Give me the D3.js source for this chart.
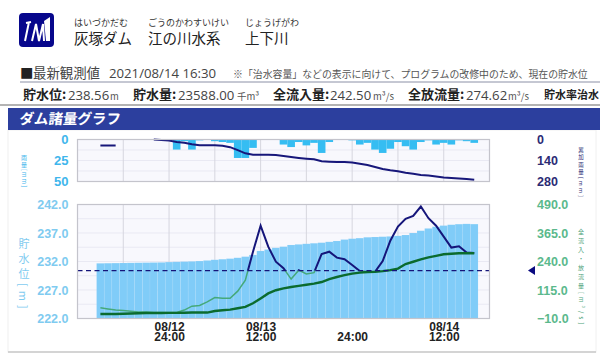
<!DOCTYPE html>
<html>
<head>
<meta charset="utf-8">
<script src="https://cdn.jsdelivr.net/npm/d3@7"></script>
<style>
  html, body { margin: 0; padding: 0; background: #fff; overflow: hidden; }
  svg { display: block; font-family: "Open Sans", "Noto Sans CJK JP", sans-serif; }
  .jp { font-family: "Noto Sans CJK JP", sans-serif; }
</style>
</head>
<body>
<svg id="chart" width="600" height="355"></svg>
<script>
// hourly readings, 08/12 15:00 through 08/14 16:00
const rain = [0,0,0,0,0,0,0,0,0,0,12,2,12,1,0,2,3,4,22,22,10,0,0,0,6,9,3,7,4,16,3,0,0,1,6,4,12,16,11,3,8,12,3,1,6,4,6,1,2,4];
const rainTotal = [40,40,40,null,null,null,null,0,3,7,16,22,31,38,38,38,42,51,71,92,102,102,102,104,110,117,123,128,132,145,148,150,150,154,161,170,183,196,205,211,222,229,236,240,247,254,256,260,264,269];
const level = [231.68,231.7,231.72,231.74,231.76,231.78,231.8,231.82,231.84,231.9,231.94,231.98,232.02,232.08,232.18,232.3,232.4,232.5,232.65,232.85,233.15,233.85,234.1,234.4,234.6,234.9,235,235.1,235.2,235.3,235.45,235.6,235.85,236,236.1,236.25,236.3,236.35,236.4,236.5,236.65,237,237.4,237.8,238.1,238.3,238.45,238.55,238.6,238.56];
const inflow = [37,32,27,25,22,19,18,16,16,16,16,27,44,47,63,82,79,79,110,158,283,397,305,239,211,163,202,185,191,273,283,257,250,225,198,194,195,242,331,393,427,440,481,430,397,349,301,307,279,277];
const outflow = [10,10,10,11,12,13,14,14,14,14.5,14.5,15,16,16,16,23,26,29,35,41,57,78,100,114,122,128,133,138,143,150,163,172,180,187,191,194,195,198,202,209,229,239,249,258,265,272,274,276,276,276];
const floodLevel = 230.4;

const rainTicks = [0, 25, 50];
const totalTicks = [0, 140, 280];
const levelTicks = [222, 227, 232, 237, 242];
const flowTicks = [-10, 115, 240, 365, 490];
const tickDates = ["08/12", "08/13", "", "08/14"];
const tickTimes = ["24:00", "12:00", "24:00", "12:00"];
const tickHours = [new Date(2021, 7, 13, 0), new Date(2021, 7, 13, 12), new Date(2021, 7, 14, 0), new Date(2021, 7, 14, 12)];

const stats = [
  { label: "貯水位:", lx: 23, value: "238.56", vx: 68, unit: "m", ux: 110 },
  { label: "貯水量:", lx: 133, value: "23588.00", vx: 178, unit: "千m³", ux: 237 },
  { label: "全流入量:", lx: 273, value: "242.50", vx: 330, unit: "m³/s", ux: 373 },
  { label: "全放流量:", lx: 408, value: "274.62", vx: 466, unit: "m³/s", ux: 508 },
  { label: "貯水率治水", lx: 544, size: 11 }
];

const times = rain.map((d, i) => d3.timeHour.offset(new Date(2021, 7, 12, 15), i));

const navy = "#15157a";
const svg = d3.select("#chart");

// Scales
const x = d3.scaleTime()
  .domain([new Date(2021, 7, 12, 12), new Date(2021, 7, 14, 18)])
  .range([77.5, 489.5]);
const barW = x(times[1]) - x(times[0]);

const yRain = d3.scaleLinear().domain([0, 50]).range([139.5, 181.5]);
const yTotal = d3.scaleLinear().domain([0, 280]).range([139.5, 181.5]);
const yLevel = d3.scaleLinear().domain([222, 242]).range([318.5, 204.5]);
const yFlow = d3.scaleLinear().domain([-10, 490]).range([318.5, 204.5]);

// Page header
function label(t, px, py, size, fill, weight, cls) {
  return svg.append("text")
    .attr("class", cls || "jp")
    .attr("x", px)
    .attr("y", py)
    .style("font-size", size + "px")
    .style("font-weight", weight || 400)
    .attr("fill", fill)
    .text(t);
}

// Logo
svg.append("rect").attr("x", 19).attr("y", 13).attr("width", 35).attr("height", 34).attr("rx", 4).attr("fill", "#07078c");
svg.append("path")
  .attr("d", "M26 23 L31 22 M29 22 L25 41 M32 41 L36 24 L39 41 M39 41 L43 24 L44 41")
  .attr("fill", "none")
  .attr("stroke", "#fff")
  .attr("stroke-width", 2);
svg.append("path").attr("d", "M44 21 L50 17 L50 41 L46 41 Z").attr("fill", "#fff");

label("はいづかだむ", 74, 25.5, 9, "#333");
label("ごうのかわすいけい", 148, 25.5, 9, "#333");
label("じょうげがわ", 245, 25.5, 9, "#333");
label("灰塚ダム", 74, 44, 14.5, "#222");
label("江の川水系", 148, 44, 14.5, "#222");
label("上下川", 245, 44, 14.5, "#222");

label("■", 20, 78, 13.4, "#222");
label("最新観測値", 33, 78, 13.4, "#444");
label("2021/08/14 16:30", 109, 78, 13.2, "#444", 400, "num");
label("※「治水容量」などの表示に向けて、プログラムの改修中のため、現在の貯水位", 233, 78, 9.9, "#555");

svg.append("line").attr("x1", 20).attr("x2", 600).attr("y1", 82).attr("y2", 82).attr("stroke", "#8b90a6");
svg.append("line").attr("x1", 0).attr("x2", 600).attr("y1", 105).attr("y2", 105).attr("stroke", "#9a9a9a").attr("stroke-width", 1.5);

stats.forEach(s => {
  label(s.label, s.lx, 99, s.size || 13, "#222", 700);
  if (s.value) {
    label(s.value, s.vx, 100, 13.2, "#444", 400, "num");
    label(s.unit, s.ux, 100, 9.5, "#555");
  }
});

// Panel
svg.append("rect").attr("x", 8).attr("y", 130).attr("width", 588).attr("height", 222).attr("fill", "#fff").attr("stroke", "#f0f0f0");
svg.append("line").attr("x1", 8).attr("x2", 596).attr("y1", 352).attr("y2", 352).attr("stroke", "#c8c8c8").attr("stroke-width", 1.5);
svg.append("rect").attr("x", 8).attr("y", 108).attr("width", 592).attr("height", 22).attr("fill", "#2c3f9e");
label("ダム諸量グラフ", 19, 124, 14.5, "#fff", 700).attr("transform", "skewX(-6) translate(13,0)");

// Plot backgrounds and grid
function grid(y, hLines) {
  svg.append("rect")
    .attr("x", x.range()[0]).attr("width", x.range()[1] - x.range()[0])
    .attr("y", Math.min(y.range()[0], y.range()[1]))
    .attr("height", Math.abs(y.range()[1] - y.range()[0]))
    .attr("fill", "#f8f8fd");

  svg.append("g").selectAll("line")
    .data(hLines)
    .join("line")
    .attr("x1", x.range()[0]).attr("x2", x.range()[1])
    .attr("y1", d => y(d)).attr("y2", d => y(d))
    .attr("stroke", "#e9e9f3");

  svg.append("g").selectAll("line")
    .data(x.ticks(d3.timeHour.every(6)))
    .join("line")
    .attr("x1", d => x(d)).attr("x2", d => x(d))
    .attr("y1", y.range()[0]).attr("y2", y.range()[1])
    .attr("stroke", "#d6d6df");
}

function frame(y) {
  svg.append("rect")
    .attr("x", x.range()[0]).attr("width", x.range()[1] - x.range()[0])
    .attr("y", Math.min(y.range()[0], y.range()[1]))
    .attr("height", Math.abs(y.range()[1] - y.range()[0]))
    .attr("fill", "none")
    .attr("stroke", "#c4c4cc")
    .attr("stroke-width", 1.2);
}

grid(yRain, [12.5, 25, 37.5]);
grid(yLevel, d3.range(224.5, 242, 2.5));

// Rain bars and running total
svg.append("g").selectAll("rect")
  .data(rain)
  .join("rect")
  .attr("x", (d, i) => x(times[i]) - barW / 2)
  .attr("width", barW)
  .attr("y", yRain(0))
  .attr("height", d => yRain(d) - yRain(0))
  .attr("fill", "#35bdf2");

const totalLine = d3.line()
  .defined(d => d != null)
  .x((d, i) => x(times[i]))
  .y(d => yTotal(d));

svg.append("path")
  .attr("d", totalLine(rainTotal))
  .attr("fill", "none")
  .attr("stroke", "#17177a")
  .attr("stroke-width", 2);

// Water level bars
svg.append("g").selectAll("rect")
  .data(level)
  .join("rect")
  .attr("x", (d, i) => x(times[i]) - barW / 2)
  .attr("width", barW)
  .attr("y", d => yLevel(d))
  .attr("height", d => yLevel(222) - yLevel(d))
  .attr("fill", "#80ccf8")
  .attr("stroke", "#fff")
  .attr("stroke-opacity", 0.12)
  .attr("stroke-width", 0.6);

// Inflow is navy above the flood level and green below it
const floodY = yLevel(floodLevel);
const defs = svg.append("defs");
defs.append("clipPath").attr("id", "above").append("rect")
  .attr("x", 0).attr("y", 0).attr("width", 600).attr("height", floodY);
defs.append("clipPath").attr("id", "below").append("rect")
  .attr("x", 0).attr("y", floodY).attr("width", 600).attr("height", 355 - floodY);

const flowLine = d3.line()
  .x((d, i) => x(times[i]))
  .y(d => yFlow(d));

svg.append("path")
  .attr("d", flowLine(inflow))
  .attr("clip-path", "url(#below)")
  .attr("fill", "none")
  .attr("stroke", "#45a97a")
  .attr("stroke-width", 1.5);

svg.append("path")
  .attr("d", flowLine(inflow))
  .attr("clip-path", "url(#above)")
  .attr("fill", "none")
  .attr("stroke", navy)
  .attr("stroke-width", 2);

svg.append("path")
  .attr("d", flowLine(outflow))
  .attr("fill", "none")
  .attr("stroke", "#0b6b2e")
  .attr("stroke-width", 2.4);

svg.append("line")
  .attr("x1", x.range()[0]).attr("x2", x.range()[1])
  .attr("y1", floodY).attr("y2", floodY)
  .attr("stroke", navy)
  .attr("stroke-width", 1.3)
  .attr("stroke-dasharray", "5,3.5");

frame(yRain);
frame(yLevel);

// Arrow for the flood level on the right
svg.append("path")
  .attr("d", "M-4 0 L3 -4.5 L3 4.5 Z")
  .attr("transform", `translate(532, ${floodY})`)
  .attr("fill", "#0a0a80");

// Axes
function axisText(g, color, size) {
  g.select(".domain").remove();
  g.selectAll("text")
    .attr("fill", color)
    .style("font-size", size + "px")
    .style("font-weight", 700);
}

svg.append("g")
  .attr("transform", "translate(77.5,0)")
  .call(d3.axisLeft(yRain).tickValues(rainTicks).tickSize(0).tickPadding(9))
  .call(axisText, "#3fb6ec", 13);

svg.append("g")
  .attr("transform", "translate(77.5,0)")
  .call(d3.axisLeft(yLevel).tickValues(levelTicks).tickSize(0).tickPadding(9).tickFormat(d3.format(".1f")))
  .call(axisText, "#7fcbf0", 12.5);

svg.append("g")
  .attr("transform", "translate(537,0)")
  .call(d3.axisRight(yTotal).tickValues(totalTicks).tickSize(0).tickPadding(0))
  .call(axisText, "#2b2b74", 12.5);

svg.append("g")
  .attr("transform", "translate(537,0)")
  .call(d3.axisRight(yFlow).tickValues(flowTicks).tickSize(0).tickPadding(0).tickFormat(d3.format(".1f")))
  .call(axisText, "#5bb98c", 12.5);

const xAxis = svg.append("g")
  .attr("transform", "translate(0,318.5)")
  .call(d3.axisBottom(x).tickValues(tickHours).tickSize(0).tickFormat(""));
xAxis.select(".domain").remove();

// Two-line tick labels: date over time
const tickText = xAxis.selectAll("text")
  .attr("y", 0)
  .attr("dy", 0)
  .attr("fill", "#222")
  .style("font-size", "12px")
  .style("font-weight", 600);
tickText.append("tspan").attr("x", 0).attr("y", 12).text((d, i) => tickDates[i]);
tickText.append("tspan").attr("x", 0).attr("y", 22.5).text((d, i) => tickTimes[i]);

// Axis titles, set vertically
function vTitle(t, px, py, size, fill, spacing) {
  svg.append("text")
    .attr("class", "jp")
    .attr("x", px)
    .attr("y", py)
    .attr("fill", fill)
    .style("writing-mode", "vertical-rl")
    .style("font-size", size + "px")
    .style("letter-spacing", spacing + "px")
    .text(t);
}

vTitle("雨量[mm]", 24, 155, 6, "#3fb6ec", 1);
vTitle("貯水位[m]", 24, 238, 11, "#7fcbf0", 4);
vTitle("累加雨量[mm]", 581, 147, 5.5, "#2b2b74", 2);
vTitle("全流入・放流量[m³/s]", 581, 229, 6, "#4a9f78", 3);
</script>
</body>
</html>
